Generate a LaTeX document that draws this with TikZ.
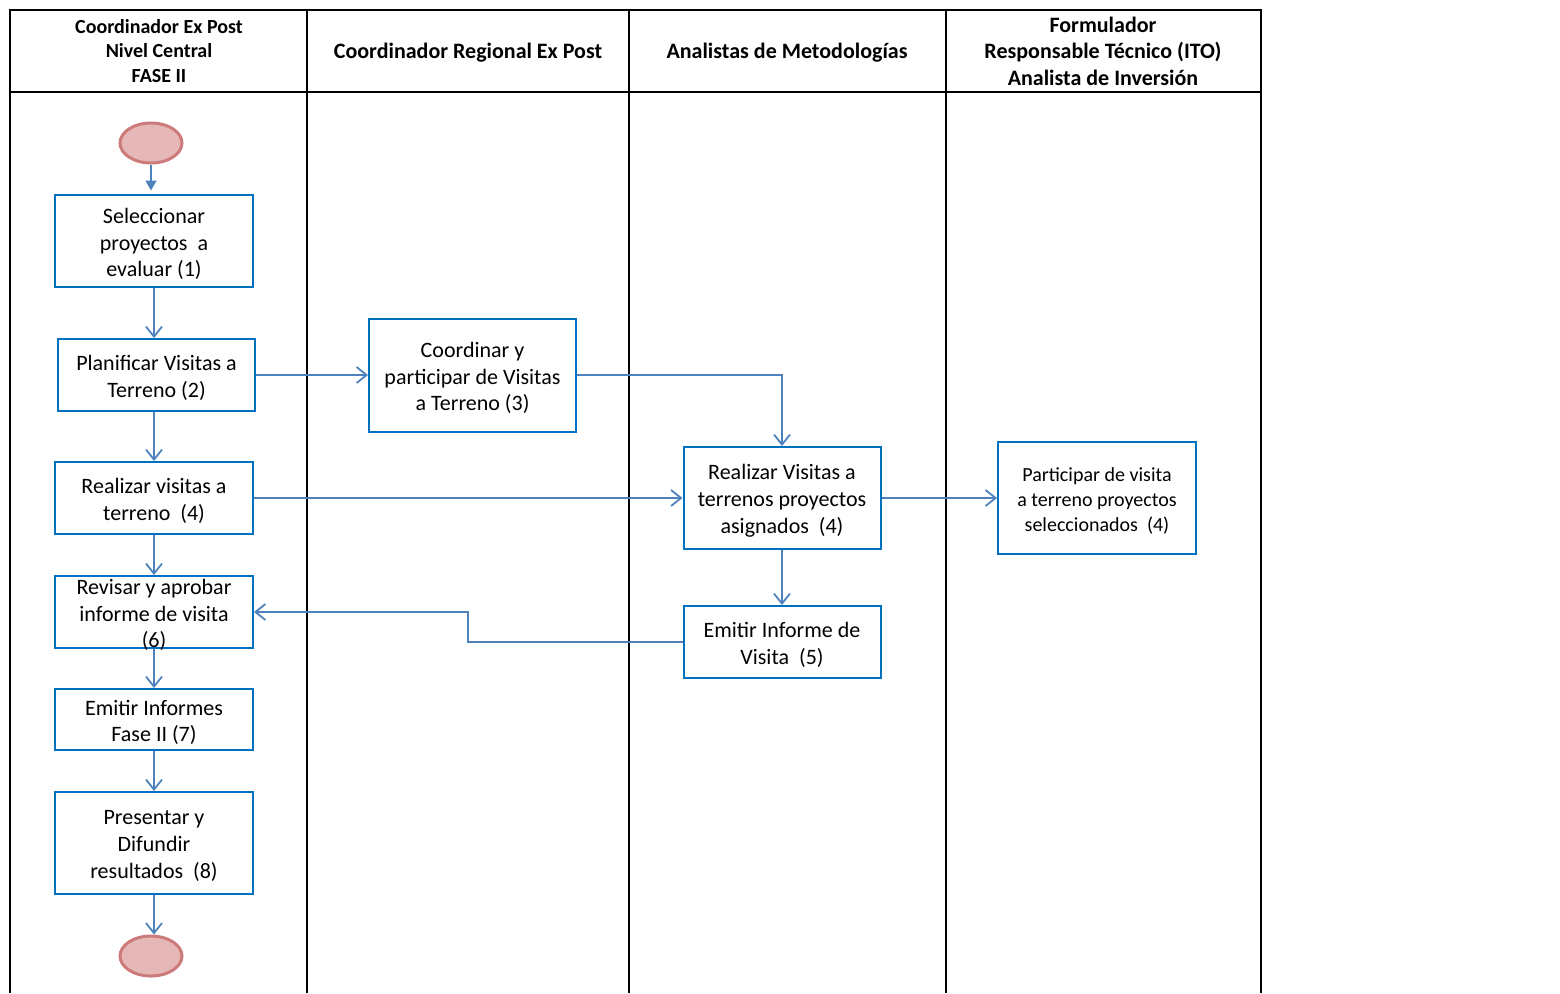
\documentclass[tikz,border=0pt]{standalone}
\usepackage{fontspec}
\setmainfont{Carlito}
\usetikzlibrary{arrows.meta,shapes.geometric}
\definecolor{boxblue}{RGB}{0,112,192}
\definecolor{arrblue}{RGB}{79,129,189}
\definecolor{ovfill}{RGB}{229,184,183}
\definecolor{ovdraw}{RGB}{204,122,122}
\begin{document}
\begin{tikzpicture}[x=0.5pt,y=-0.5pt,
  lane/.style={draw=black,line width=1pt},
  hdr/.style={font=\bfseries\fontsize{11}{13.2}\selectfont,align=center,inner sep=0pt},
  procbox/.style={draw=boxblue,line width=1pt,fill=white,inner sep=0pt},
  txt/.style={align=center,font=\fontsize{11}{13.4}\selectfont,inner sep=0pt,yshift=-1.5pt},
  stxt/.style={txt,font=\fontsize{10}{12.3}\selectfont},
  term/.style={ellipse,draw=ovdraw,fill=ovfill,line width=1.5pt,
     minimum width=31pt,minimum height=20pt,inner sep=0pt},
  flow/.style={draw=arrblue,line width=0.9pt,-{Straight Barb[length=5pt,width=8pt,line width=0.9pt]}},
  flowfill/.style={draw=arrblue,line width=0.9pt,-{Triangle[length=5pt,width=5.5pt]}}]
\useasboundingbox (0,0) rectangle (1560,993);
% swimlanes
\draw[lane] (10,993) -- (10,10) -- (1261,10) -- (1261,993);
\draw[lane] (10,92) -- (1261,92);
\draw[lane] (307,10) -- (307,993);
\draw[lane] (629,10) -- (629,993);
\draw[lane] (946,10) -- (946,993);
% headers
\node[hdr,font=\bfseries\fontsize{10}{12.3}\selectfont] (h1) at (159,51) {Coordinador Ex Post\\Nivel Central\\FASE II};
\node[hdr] (h2) at (468,53) {Coordinador Regional Ex Post};
\node[hdr] (h3) at (787,53) {Analistas de Metodologías};
\node[hdr] (h4) at (1103,51) {Formulador\\Responsable Técnico (ITO)\\Analista de Inversión};
% nodes
\node[term] (start) at (151,143) {};
\node[procbox,minimum width=99pt,minimum height=46pt] (b1) at (154,241) {};
\node[txt] (t1) at (b1.center) {Seleccionar\\proyectos~~a\\evaluar (1)};
\node[procbox,minimum width=98.5pt,minimum height=36pt] (b2) at (156.5,375) {};
\node[txt] (t2) at (b2.center) {Planificar Visitas a\\Terreno (2)};
\node[procbox,minimum width=103.5pt,minimum height=56.5pt] (b3) at (472.5,375) {};
\node[txt] (t3) at (b3.center) {Coordinar y\\participar de Visitas\\a Terreno (3)};
\node[procbox,minimum width=99pt,minimum height=36pt] (b4) at (154,498) {};
\node[txt] (t4) at (b4.center) {Realizar visitas a\\terreno~~(4)};
\node[procbox,minimum width=98.5pt,minimum height=51pt] (b5) at (782,498) {};
\node[txt] (t5) at (b5.center) {Realizar Visitas a\\terrenos proyectos\\asignados~~(4)};
\node[procbox,minimum width=99pt,minimum height=56pt] (b6) at (1097,498) {};
\node[stxt] (t6) at (b6.center) {Participar de visita\\a terreno proyectos\\seleccionados~~(4)};
\node[procbox,minimum width=99pt,minimum height=36pt] (b7) at (154,612) {};
\node[txt] (t7) at (b7.center) {Revisar y aprobar\\informe de visita\\(6)};
\node[procbox,minimum width=98.5pt,minimum height=36pt] (b8) at (782,642) {};
\node[txt] (t8) at (b8.center) {Emitir Informe de\\Visita~~(5)};
\node[procbox,minimum width=99pt,minimum height=30.5pt] (b9) at (154,719.5) {};
\node[txt] (t9) at (b9.center) {Emitir Informes\\Fase II (7)};
\node[procbox,minimum width=99pt,minimum height=51pt] (b10) at (154,843) {};
\node[txt] (t10) at (b10.center) {Presentar y\\Difundir\\resultados~~(8)};
\node[term] (end) at (151,956) {};
\coordinate (k1) at (468,642);
% connectors
\draw[flowfill] (start.south) -- ++(0,26);
\draw[flow] (b1.south) -- (b1.south |- b2.north);
\draw[flow] (b2.east) -- (b2.east -| b3.west);
\draw[flow] (b3.east) -| (b5.north);
\draw[flow] (b1.south |- b2.south) -- (b4.north);
\draw[flow] (b4.east) -- (b5.west);
\draw[flow] (b5.east) -- (b6.west);
\draw[flow] (b4.south) -- (b7.north);
\draw[flow] (b5.south) -- (b8.north);
\draw[flow] (b8.west) -- (k1) |- (b7.east);
\draw[flow] (b7.south) -- (b9.north);
\draw[flow] (b9.south) -- (b10.north);
\draw[flow] (b10.south) -- (b10.south |- end.north);
\end{tikzpicture}
\end{document}
